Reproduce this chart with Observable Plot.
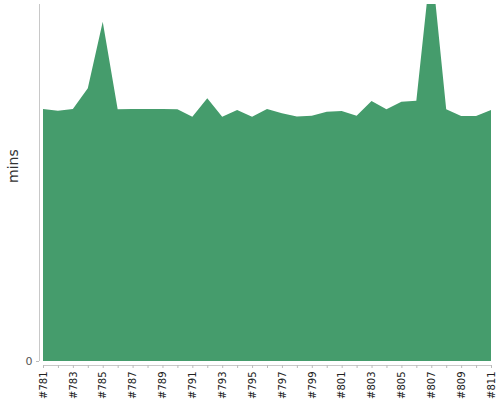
<!DOCTYPE html>
<html>
<head>
<meta charset="utf-8">
<script src="https://cdn.jsdelivr.net/npm/d3@7"></script>
<script src="https://cdn.jsdelivr.net/npm/@observablehq/plot@0.6"></script>
<style>
  html, body { margin: 0; padding: 0; background: #fff; }
  svg, svg text { font-family: "DejaVu Sans", sans-serif !important; }
</style>
</head>
<body>
<div id="chart"></div>
<script>
const builds = [
  "#781","#782","#783","#784","#785","#786","#787","#788","#789","#790",
  "#791","#792","#793","#794","#795","#796","#797","#798","#799","#800",
  "#801","#802","#803","#804","#805","#806","#807","#808","#809","#810","#811"
];
const minutes = [
  35.3, 35.05, 35.3, 38.2, 47.5, 35.25, 35.3, 35.3, 35.3, 35.25,
  34.2, 36.8, 34.2, 35.15, 34.2, 35.3, 34.7, 34.25, 34.35, 34.9,
  35.0, 34.35, 36.4, 35.25, 36.3, 36.45, 56.0, 35.25, 34.3, 34.3, 35.15
];
const yTicks = [0];
const yMax = 50;
const yLabel = "mins";

const data = builds.map((b, i) => ({build: b, mins: minutes[i]}));
const labelled = new Set(builds.filter((b, i) => i % 2 === 0));
const FONT = "DejaVu Sans";

const chart = Plot.plot({
  width: 500,
  height: 400,
  marginLeft: 43,
  marginRight: 9,
  marginTop: 4,
  marginBottom: 39,
  style: {fontFamily: FONT, fontSize: "10px", color: "#333", background: "#fff"},
  x: {type: "point", domain: builds, padding: 0, round: false, axis: null},
  y: {domain: [0, yMax], axis: null},
  marks: [
    Plot.areaY(data, {x: "build", y: "mins", fill: "#459c6c", clip: true, curve: "linear"}),
    Plot.ruleX([builds[0]], {dx: -4, stroke: "#c8c8c8", strokeWidth: 1}),
    Plot.ruleY([0], {dy: 4, stroke: "#c8c8c8", strokeWidth: 1}),
    Plot.axisY({ticks: yTicks, tickSize: 3, tickPadding: 4, dx: -4, stroke: "#bbb", fill: "#555", fontSize: 11, fontFamily: FONT, label: null}),
    Plot.axisX({
      ticks: builds, tickSize: 3, tickPadding: 3, dy: 4, tickRotate: -90,
      stroke: "#bbb", fill: "#222", fontSize: 10, fontFamily: FONT, label: null,
      tickFormat: d => labelled.has(d) ? d : ""
    }),
    Plot.text([yLabel], {frameAnchor: "left", dx: -30, rotate: -90, text: d => d, fontSize: 14, fontFamily: FONT, fill: "#333"})
  ]
});
document.getElementById("chart").appendChild(chart);
</script>
</body>
</html>
